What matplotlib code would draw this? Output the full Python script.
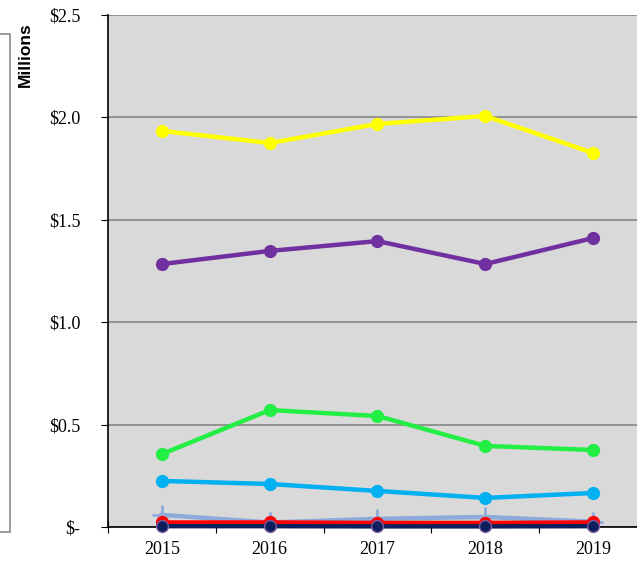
import matplotlib
matplotlib.use("Agg")
import matplotlib.pyplot as plt
from matplotlib.patches import Rectangle
from matplotlib.ticker import FuncFormatter, FixedLocator

plt.rcParams["axes.unicode_minus"] = False

years = ["2015", "2016", "2017", "2018", "2019"]

# values in millions of dollars
yellow = [1.934, 1.875, 1.968, 2.007, 1.826]
purple = [1.284, 1.348, 1.396, 1.284, 1.411]
green = [0.356, 0.571, 0.542, 0.396, 0.376]
sky = [0.225, 0.210, 0.176, 0.142, 0.166]
steel = [0.059, 0.022, 0.040, 0.049, 0.026]
red = [0.022, 0.022, 0.020, 0.020, 0.022]
navy = [0.004, 0.004, 0.003, 0.003, 0.004]

W, H = 637, 561
fig = plt.figure(figsize=(W / 100, H / 100), dpi=100)
ax = fig.add_axes([108 / W, 34 / H, 539 / W, 512 / H])
ax.set_facecolor("#d9d9d9")

x = list(range(len(years)))
lw = 3.2
ms = 8.5
ax.plot(x, yellow, color="#ffff00", lw=lw, marker="o", ms=ms, zorder=3)
ax.plot(x, purple, color="#7030a0", lw=lw, marker="o", ms=ms, zorder=3)
ax.plot(x, green, color="#22ee44", lw=lw, marker="o", ms=ms, zorder=3)
ax.plot(x, sky, color="#00b0f0", lw=lw, marker="o", ms=ms, zorder=3)
ax.plot(x, steel, color="#8eaadb", lw=lw, marker="+", ms=14, mew=2, zorder=3, clip_on=False)
ax.plot(x, red, color="#ff0000", lw=lw, marker="o", ms=ms, zorder=4, clip_on=False)
ax.plot(x, navy, color="#0c1f5c", lw=lw, marker="o", ms=ms, mec="#7a5aa0", mew=1,
        zorder=5, clip_on=False)

ax.set_xlim(-0.5, 4.5)
ax.set_ylim(0, 2.5)
ax.set_yticks([0, 0.5, 1.0, 1.5, 2.0, 2.5])
ax.yaxis.set_major_formatter(FuncFormatter(lambda v, p: "$-" if v == 0 else "${:.1f}".format(v)))
ax.grid(axis="y", color="#808080", lw=1.1, zorder=1)
ax.set_axisbelow(True)

# category ticks between years, labels centred under each year
ax.xaxis.set_major_locator(FixedLocator([i - 0.5 for i in range(6)]))
ax.xaxis.set_minor_locator(FixedLocator(x))
ax.set_xticklabels([])
ax.set_xticklabels(years, minor=True)
ax.tick_params(axis="x", which="major", direction="inout", length=8, color="black")
ax.tick_params(axis="x", which="minor", length=0, pad=10)
ax.tick_params(axis="y", direction="out", length=5, pad=15)
for lab in ax.get_xticklabels(minor=True) + ax.get_yticklabels():
    lab.set_fontfamily("Liberation Serif")
    lab.set_fontsize(13)

for s in ["top", "right"]:
    ax.spines[s].set_visible(False)
ax.spines["left"].set_color("black")
ax.spines["bottom"].set_color("black")
ax.spines["left"].set_linewidth(1.2)
ax.spines["bottom"].set_linewidth(1.2)

fig.text(25 / W, 1 - 55 / H, "Millions", rotation=90, ha="center", va="center",
         fontfamily="Liberation Sans", fontweight="bold", fontsize=12.5)

# legend frame at the left edge
fig.patches.append(Rectangle((-0.2, 1 - 532 / H), 0.2 + 9.5 / W, (532 - 34) / H,
                             transform=fig.transFigure, facecolor="none",
                             edgecolor="#8c8c8c", lw=1.2))

fig.savefig("out.png", dpi=100)
